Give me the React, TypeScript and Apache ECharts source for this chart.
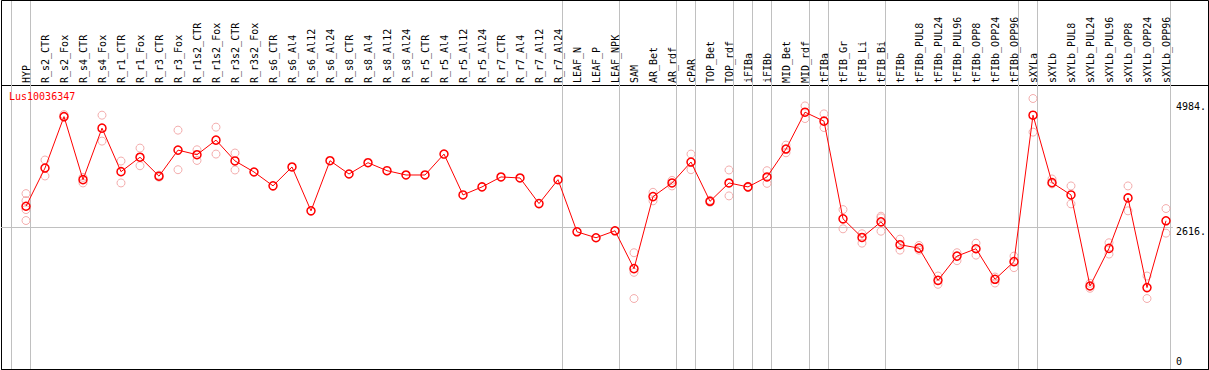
import React, { useEffect, useRef } from "react";
import * as echarts from "echarts";

const geneName = "Lus10036347";

const categories = [
  "HYP", "R_s2_CTR", "R_s2_Fox", "R_s4_CTR", "R_s4_Fox", "R_r1_CTR", "R_r1_Fox", "R_r3_CTR", "R_r3_Fox",
  "R_r1s2_CTR", "R_r1s2_Fox", "R_r3s2_CTR", "R_r3s2_Fox", "R_s6_CTR", "R_s6_Al4", "R_s6_Al12", "R_s6_Al24",
  "R_s8_CTR", "R_s8_Al4", "R_s8_Al12", "R_s8_Al24", "R_r5_CTR", "R_r5_Al4", "R_r5_Al12", "R_r5_Al24",
  "R_r7_CTR", "R_r7_Al4", "R_r7_Al12", "R_r7_Al24", "LEAF_N", "LEAF_P", "LEAF_NPK", "SAM", "AR_Bet", "AR_rdf",
  "cPAR", "TOP_Bet", "TOP_rdf", "iFIBa", "iFIBb", "MID_Bet", "MID_rdf", "tFIBa", "tFIB_Gr", "tFIB_Li", "tFIB_Bi",
  "tFIBb", "tFIBb_PUL8", "tFIBb_PUL24", "tFIBb_PUL96", "tFIBb_OPP8", "tFIBb_OPP24", "tFIBb_OPP96",
  "sXYLa", "sXYLb", "sXYLb_PUL8", "sXYLb_PUL24", "sXYLb_PUL96", "sXYLb_OPP8", "sXYLb_OPP24", "sXYLb_OPP96",
];

const meanValues = [
  3006, 3708, 4652, 3494, 4440, 3641, 3906, 3558, 4037, 3952, 4220, 3838, 3635, 3381, 3727, 2922, 3842,
  3598, 3805, 3659, 3580, 3580, 3964, 3214, 3361, 3544, 3525, 3055, 3494, 2537, 2428, 2556, 1861, 3183, 3434,
  3818, 3097, 3434, 3361, 3544, 4056, 4733, 4568, 2775, 2433, 2720, 2300, 2237, 1646, 2091, 2226, 1665, 1989,
  4678, 3439, 3214, 1542, 2232, 3159, 1513, 2739,
];

const replicateA = [
  3238, 3855, 4689, 3536, 4678, 3836, 4074, 3577, 4403, 4043, 4458, 3983,
  null, null, null, null, null, null, null, null, null, null, null, null, null, null, null, null, null, null, null, null,
  2153, 3262, 3481, 3964, 3116, 3672, 3372, 3659, 4129, 4848, 4702, 2945, 2501, 2823, 2402, 2287, 1725, 2153,
  2329, 1707, 2091, 4984, 3507, 3379, 1592, 2336, 3379, 1725, 2964,
];

const replicateB = [
  3110, 3562, 4641, 3434, 4202, 3434, 3750, 3540, 3677, 3847, 3964, 3672,
  null, null, null, null, null, null, null, null, null, null, null, null, null, null, null, null, null, null, null, null,
  1793, 3105, 3379, 3677, 3079, 3196, 3348, 3426, 3988, 4616, 4451, 2592, 2329, 2794, 2201, 2201, 1573, 2007,
  2109, 1597, 1879, 4367, 3416, 3050, 1500, 2128, 2922, 1312, 2512,
];

const extraReplicates: [string, number][] = [
  ["HYP", 2945],
  ["HYP", 2744],
  ["SAM", 1312],
  ["tFIB_Bi", 2548],
];

// indices (in slot units, 0 = before first category) where grey group separators are drawn
const groupBreaks = [0, 1, 29, 32, 35, 36, 38, 39, 40, 42, 43, 46, 53, 54, 61];

const yTickLabels = [0, 2616, 4984];
const yMax = 5232;
const yInterval = 2616;

const FONT = "DejaVu Sans Mono";

export default function App() {
  const ref = useRef<HTMLDivElement>(null);

  useEffect(() => {
    if (!ref.current) return;
    const chart = echarts.init(ref.current, null, { renderer: "svg" });

    const repPoints: [string, number][] = [];
    [replicateA, replicateB].forEach((arr) => {
      arr.forEach((v, i) => {
        if (v != null) repPoints.push([categories[i], v as number]);
      });
    });
    extraReplicates.forEach((p) => repPoints.push(p));

    const slots = Array.from({ length: categories.length + 1 }, (_, i) => String(i));
    const topLabel = Math.max(...yTickLabels);

    const hiddenValueAxis = (gridIndex: number) => ({
      type: "value",
      gridIndex,
      show: false,
      min: 0,
      max: 1,
    });

    const option: any = {
      animation: false,
      textStyle: { fontFamily: FONT },
      title: {
        text: geneName,
        left: 9,
        top: 91,
        padding: 0,
        textStyle: { color: "#ff0000", fontSize: 10, fontWeight: "normal", fontFamily: FONT },
      },
      grid: [
        // 0 outer frame
        { left: 1.5, right: 0.5, top: 0.5, bottom: 0.5, show: true, borderColor: "#000", borderWidth: 1, backgroundColor: "transparent", containLabel: false },
        // 1 plot frame (header separator)
        { left: 1.5, right: 0.5, top: 85.5, bottom: 0.5, show: true, borderColor: "#000", borderWidth: 1, backgroundColor: "transparent", containLabel: false },
        // 2 group separator lines
        { left: 11.7, right: 38.3, top: 1, bottom: 1, show: false, containLabel: false },
        // 3 data
        { left: 16.5, right: 33.5, top: 85, bottom: -1, show: false, containLabel: false },
        // 4 y axis labels + reference line
        { left: 1, right: 33, top: 85, bottom: -1, show: false, containLabel: false },
      ],
      xAxis: [
        {
          type: "category",
          gridIndex: 3,
          data: categories,
          position: "top",
          boundaryGap: true,
          axisLine: { show: false },
          axisTick: { show: false },
          splitLine: { show: false },
          axisLabel: {
            interval: 0,
            rotate: 90,
            margin: 2,
            fontFamily: FONT,
            fontSize: 10,
            color: "#000",
          },
        },
        {
          type: "category",
          gridIndex: 2,
          data: slots,
          boundaryGap: false,
          axisLine: { show: false },
          axisTick: { show: false },
          axisLabel: { show: false },
          splitLine: {
            show: true,
            interval: (idx: number) => groupBreaks.includes(idx),
            lineStyle: { color: "#c0c0c0", width: 1 },
          },
        },
        hiddenValueAxis(4),
        hiddenValueAxis(0),
        hiddenValueAxis(1),
      ],
      yAxis: [
        { type: "value", gridIndex: 3, min: 0, max: yMax, show: false },
        hiddenValueAxis(2),
        {
          type: "value",
          gridIndex: 4,
          position: "right",
          min: 0,
          max: yMax,
          interval: yInterval,
          axisLine: { show: false },
          axisTick: { show: false },
          splitLine: {
            show: true,
            showMinLine: false,
            showMaxLine: false,
            lineStyle: { color: "#c0c0c0", width: 1 },
          },
          axisLabel: {
            customValues: yTickLabels,
            margin: 3,
            fontFamily: FONT,
            fontSize: 10,
            color: "#000",
            formatter: (v: number) =>
              v === 0 ? "{z|0}" : v === topLabel ? `{t|${v}.}` : `{m|${v}.}`,
            rich: {
              z: { fontFamily: FONT, fontSize: 10, color: "#000", padding: [0, 0, 18, 0] },
              m: { fontFamily: FONT, fontSize: 10, color: "#000", padding: [8, 0, 0, 0] },
              t: { fontFamily: FONT, fontSize: 10, color: "#000", padding: [16, 0, 0, 0] },
            },
          },
        },
        hiddenValueAxis(0),
        hiddenValueAxis(1),
      ],
      series: [
        {
          type: "scatter",
          xAxisIndex: 0,
          yAxisIndex: 0,
          data: repPoints,
          symbol: "circle",
          symbolSize: 8,
          itemStyle: { color: "rgba(0,0,0,0)", borderColor: "#f09a9a", borderWidth: 1 },
          z: 2,
          silent: true,
        },
        {
          type: "line",
          xAxisIndex: 0,
          yAxisIndex: 0,
          data: meanValues,
          symbol: "circle",
          symbolSize: 8,
          showAllSymbol: true,
          itemStyle: { color: "rgba(0,0,0,0)", borderColor: "#ff0000", borderWidth: 1.5 },
          lineStyle: { color: "#ff0000", width: 1 },
          z: 3,
          silent: true,
        },
      ],
    };

    chart.setOption(option);
    return () => chart.dispose();
  }, []);

  return (
    <div
      ref={ref}
      style={{ position: "absolute", left: 0, top: 0, width: 1209, height: 370, background: "#fff" }}
    />
  );
}
